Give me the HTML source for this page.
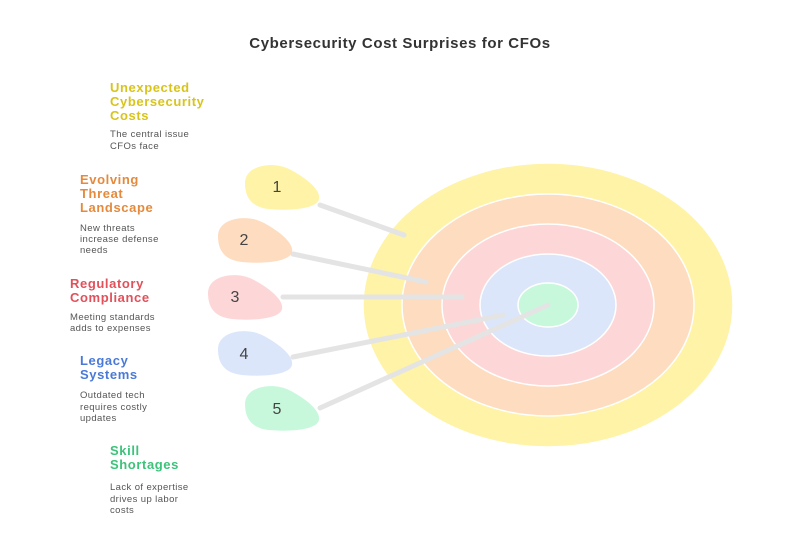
<!DOCTYPE html>
<html><head><meta charset="utf-8"><style>
html,body{margin:0;padding:0;background:#fff}
svg{display:block}
.h{font-family:"Liberation Sans",sans-serif;font-weight:bold;font-size:13px;letter-spacing:0.6px}
.d{font-family:"Liberation Sans",sans-serif;font-size:9.5px;fill:#555;letter-spacing:0.4px}
.n{font-family:"Liberation Sans",sans-serif;font-size:16px;fill:#444;text-anchor:middle}
</style></head><body>
<svg width="800" height="560" viewBox="0 0 800 560">
<rect width="800" height="560" fill="#fff"/>
<text x="400" y="48" text-anchor="middle" font-family="Liberation Sans,sans-serif" font-weight="bold" font-size="15" fill="#333" letter-spacing="0.6">Cybersecurity Cost Surprises for CFOs</text>
<g stroke="#fff" stroke-width="1.5">
<ellipse cx="548" cy="305" rx="185" ry="142" fill="#fef3a6"/>
<ellipse cx="548" cy="305" rx="146" ry="111" fill="#fddcc0"/>
<ellipse cx="548" cy="305" rx="106" ry="81" fill="#fdd7d7"/>
<ellipse cx="548" cy="305" rx="68" ry="51" fill="#dbe6fb"/>
<ellipse cx="548" cy="305" rx="30" ry="22" fill="#c8f8dc"/>
</g>
<g stroke="#e4e4e4" stroke-width="5" stroke-linecap="round">
<line x1="320" y1="205" x2="404" y2="235"/>
<line x1="293" y1="254" x2="426" y2="282"/>
<line x1="283" y1="297" x2="462" y2="297"/>
<line x1="293" y1="357" x2="503" y2="315"/>
<line x1="320" y1="408" x2="548" y2="305"/>
</g>
<defs><path id="b" d="M-36,-4 C-36,-22 -8,-26 8,-18 C22,-11 40,2 38,12 C36,22 8,24 -12,22 C-30,20 -36,10 -36,-4Z"/></defs>
<use href="#b" x="281" y="187" fill="#fef3a6"/>
<use href="#b" x="254" y="240" fill="#fddcc0"/>
<use href="#b" x="244" y="297" fill="#fdd7d7"/>
<use href="#b" x="254" y="353" fill="#dbe6fb"/>
<use href="#b" x="281" y="408" fill="#c8f8dc"/>
<text class="n" x="277" y="192">1</text>
<text class="n" x="244" y="245">2</text>
<text class="n" x="235" y="302">3</text>
<text class="n" x="244" y="359">4</text>
<text class="n" x="277" y="414">5</text>
<g class="h" fill="#d8c41c"><text x="110" y="92">Unexpected</text><text x="110" y="106">Cybersecurity</text><text x="110" y="120">Costs</text></g>
<text class="d" x="110" y="137">The central issue</text><text class="d" x="110" y="149">CFOs face</text>
<g class="h" fill="#e58a3c"><text x="80" y="184">Evolving</text><text x="80" y="198">Threat</text><text x="80" y="212">Landscape</text></g>
<text class="d" x="80" y="231">New threats</text><text class="d" x="80" y="242">increase defense</text><text class="d" x="80" y="253">needs</text>
<g class="h" fill="#e2505a"><text x="70" y="288">Regulatory</text><text x="70" y="302">Compliance</text></g>
<text class="d" x="70" y="320">Meeting standards</text><text class="d" x="70" y="331">adds to expenses</text>
<g class="h" fill="#4a7ad8"><text x="80" y="365">Legacy</text><text x="80" y="379">Systems</text></g>
<text class="d" x="80" y="398">Outdated tech</text><text class="d" x="80" y="410">requires costly</text><text class="d" x="80" y="421">updates</text>
<g class="h" fill="#3cc27a"><text x="110" y="455">Skill</text><text x="110" y="469">Shortages</text></g>
<text class="d" x="110" y="490">Lack of expertise</text><text class="d" x="110" y="502">drives up labor</text><text class="d" x="110" y="513">costs</text>
</svg>
</body></html>
